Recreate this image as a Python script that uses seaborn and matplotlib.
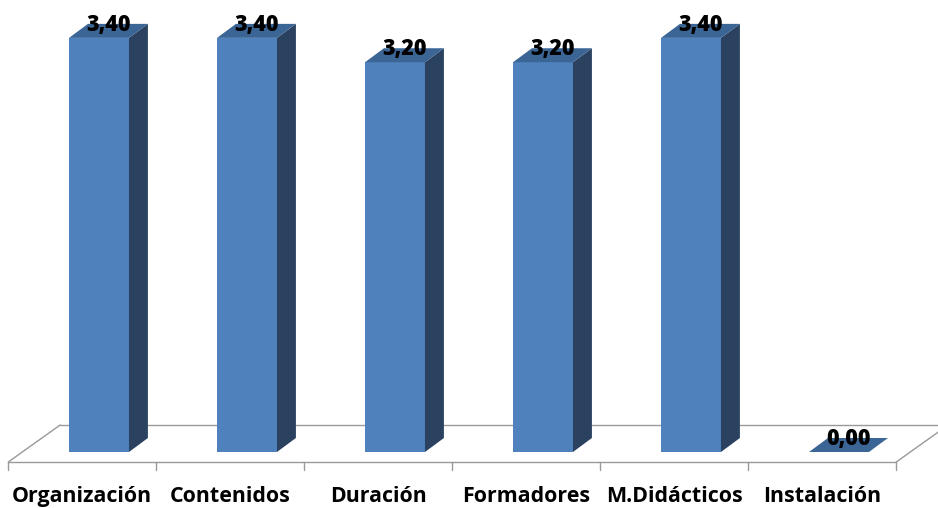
import matplotlib
matplotlib.use("Agg")
import matplotlib.pyplot as plt
from matplotlib.patches import Polygon
import seaborn as sns
import pandas as pd

categories = ["Organización", "Contenidos", "Duración", "Formadores", "M.Didácticos", "Instalación"]
values = [3.40, 3.40, 3.20, 3.20, 3.40, 0.00]
value_labels = ["3,40", "3,40", "3,20", "3,20", "3,40", "0,00"]

FRONT = "#4F81BD"
SIDE = "#2A4260"
TOP = "#3B6595"
FLOOR = "#999999"

sns.set_theme(style="white")
plt.rcParams["font.family"] = ["Open Sans", "DejaVu Sans"]

df = pd.DataFrame({"cat": categories, "val": values})

fig = plt.figure(figsize=(9.38, 5.08), dpi=100)
ax = fig.add_axes([0, 0, 1, 1])

bar_w = 0.405
sns.barplot(data=df, x="cat", y="val", order=categories, color=FRONT,
            width=bar_w, saturation=1, ax=ax, zorder=3, errorbar=None, linewidth=0)

# pseudo-3D depth offsets (data units)
dx, dy = 0.128, 0.115
shift = 0.113          # floor/category offset relative to bar fronts
floor_front, floor_back = -0.082, 0.222
floor_dx = 0.351
n = len(categories)

# floor
x0 = -0.5 - shift
x1 = n - 0.5 - shift
ax.plot([x0, x1], [floor_front, floor_front], color=FLOOR, lw=1, zorder=1)
ax.plot([x0 + floor_dx, x1 + floor_dx], [floor_back, floor_back], color=FLOOR, lw=1, zorder=1)
ax.plot([x0, x0 + floor_dx], [floor_front, floor_back], color=FLOOR, lw=1, zorder=1)
ax.plot([x1, x1 + floor_dx], [floor_front, floor_back], color=FLOOR, lw=1, zorder=1)
for k in range(n + 1):
    xb = x0 + k
    ax.plot([xb, xb], [floor_front, floor_front - 0.066], color=FLOOR, lw=1, zorder=1)

# side and top faces
for i, v in enumerate(values):
    left, right = i - bar_w / 2, i + bar_w / 2
    side = Polygon([(right, 0), (right + dx, dy), (right + dx, v + dy), (right, v)],
                   closed=True, facecolor=SIDE, edgecolor="none", zorder=3)
    top = Polygon([(left, v), (left + dx, v + dy), (right + dx, v + dy), (right, v)],
                  closed=True, facecolor=TOP, edgecolor="none", zorder=4)
    if v > 0:
        ax.add_patch(side)
    ax.add_patch(top)
    ax.text(i + dx / 2, v + dy / 2 + 0.05, value_labels[i], ha="center", va="center",
            fontsize=15.5, fontweight="heavy", color="black", zorder=5)

# category labels
for i, c in enumerate(categories):
    ax.text(i - shift, -0.362, c, ha="center", va="center",
            fontsize=15.4, fontweight="bold", color="black")

ax.set_xlim(-99 / 148, (938 - 99) / 148)
ax.set_ylim(-56 / 121.8, 452 / 121.8)
ax.axis("off")

fig.savefig("out.png", dpi=100)
